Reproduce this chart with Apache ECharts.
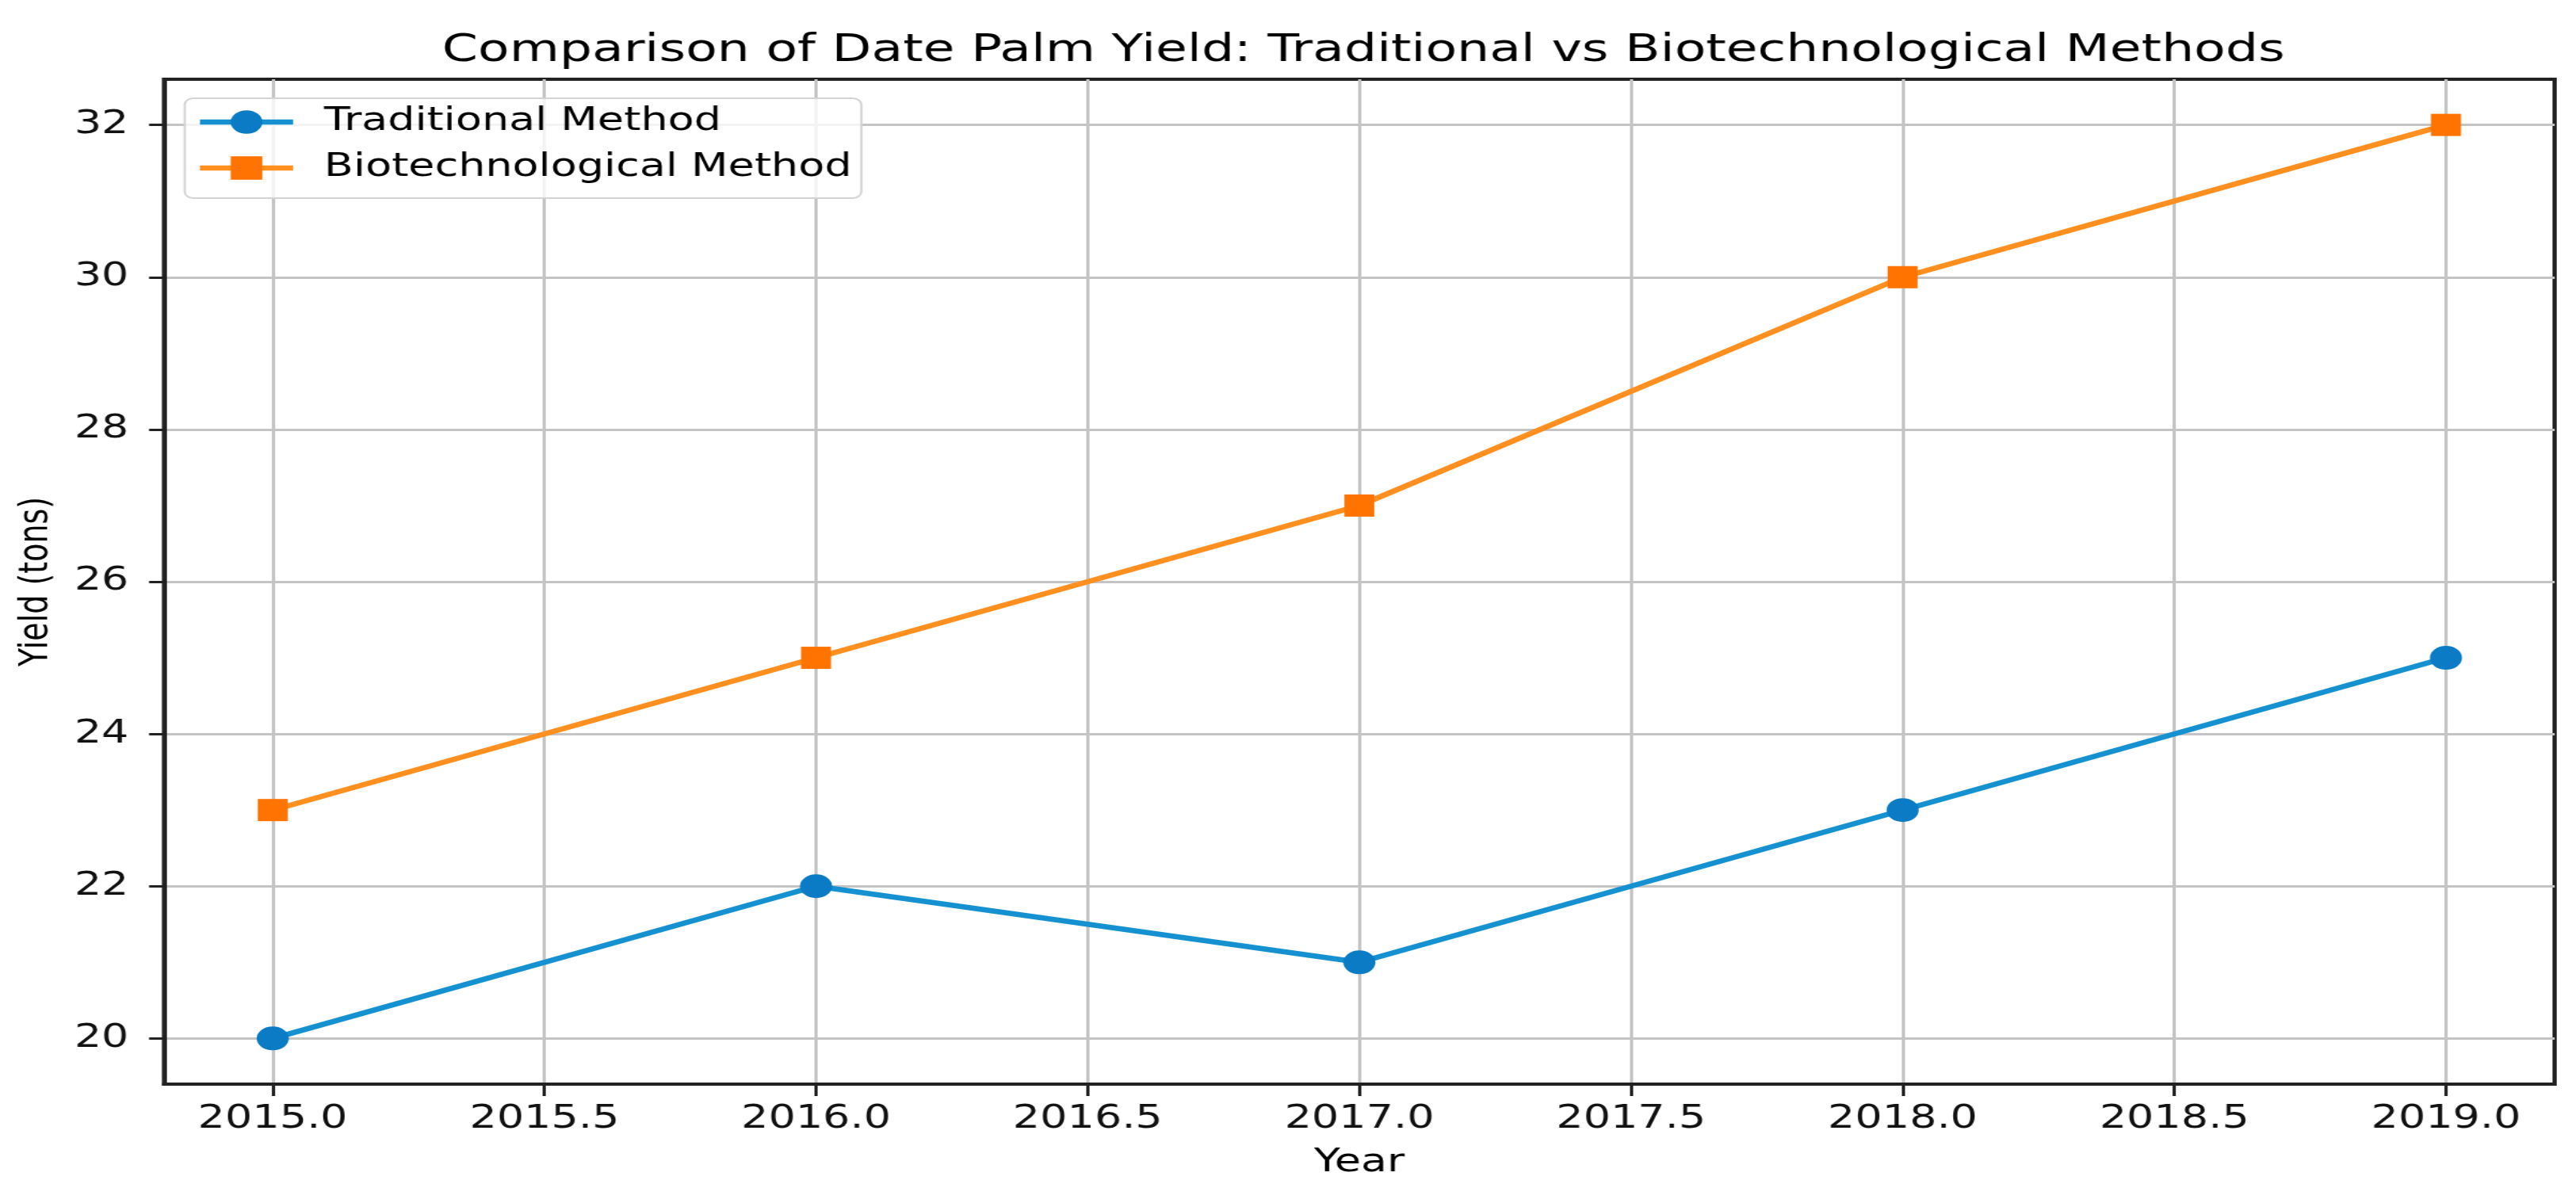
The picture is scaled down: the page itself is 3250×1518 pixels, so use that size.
<!DOCTYPE html>
<html>
<head>
<meta charset="utf-8">
<script src="https://cdn.jsdelivr.net/npm/echarts@6/dist/echarts.min.js"></script>
<style>
  html, body { margin: 0; padding: 0; background: #fff; overflow: hidden; }
  #chart { width: 2407px; height: 1518px; transform: scaleX(1.35024); transform-origin: 0 0; }
</style>
</head>
<body>
<div id="chart"></div>
<script>
// ---- data ----
const years = [2015, 2016, 2017, 2018, 2019];
const traditional = [20, 22, 21, 23, 25];
const biotech = [23, 25, 27, 30, 32];
const xTicks = [2015.0, 2015.5, 2016.0, 2016.5, 2017.0, 2017.5, 2018.0, 2018.5, 2019.0];
const yTicks = [20, 22, 24, 26, 28, 30, 32];
const titleText = 'Comparison of Date Palm Yield: Traditional vs Biotechnological Methods';
const seriesNames = ['Traditional Method', 'Biotechnological Method'];

const FONT = 'DejaVu Sans';
const chart = echarts.init(document.getElementById('chart'));

function pairs(xs, ys) { return xs.map((x, i) => [x, ys[i]]); }

const option = {
  animation: false,
  backgroundColor: '#ffffff',
  textStyle: { fontFamily: FONT },
  title: {
    text: titleText,
    left: 1269,
    textAlign: 'center',
    top: 36,
    textStyle: { fontFamily: FONT, fontSize: 48, fontWeight: 'normal', color: '#000' }
  },
  legend: {
    orient: 'vertical',
    left: 172.6,
    top: 124,
    padding: [10, 9, 18, 11],
    itemGap: 18,
    itemWidth: 87,
    itemHeight: 37,
    backgroundColor: 'rgba(255,255,255,0.8)',
    borderColor: '#d3d3d3',
    borderWidth: 2,
    borderRadius: 8,
    lineStyle: { width: 6.5 },
    textStyle: { fontFamily: FONT, fontSize: 40, color: '#000', padding: [0, 0, 0, 24] },
    data: seriesNames
  },
  grid: {
    left: 153.3,
    right: 20,
    top: 100,
    bottom: 150,
    show: true,
    borderColor: '#222',
    borderWidth: 4,
    backgroundColor: 'transparent'
  },
  xAxis: {
    type: 'value',
    min: 2014.8,
    max: 2019.2,
    name: 'Year',
    nameLocation: 'middle',
    nameGap: 80,
    nameTextStyle: { fontFamily: FONT, fontSize: 40, color: '#000' },
    axisLine: { show: true, lineStyle: { color: '#222', width: 4 } },
    axisTick: { show: true, length: 15, lineStyle: { color: '#222', width: 3 }, customValues: xTicks },
    axisLabel: {
      customValues: xTicks,
      margin: 25,
      fontFamily: FONT,
      fontSize: 40,
      color: '#111',
      formatter: v => Number(v).toFixed(1)
    },
    splitLine: { show: true, lineStyle: { color: '#c4c4c4', width: 3 } }
  },
  yAxis: {
    type: 'value',
    min: 19.4,
    max: 32.6,
    name: 'Yield (tons)',
    nameLocation: 'middle',
    nameGap: 100,
    nameRotate: 90,
    nameTextStyle: { fontFamily: FONT, fontSize: 38, color: '#000' },
    axisLine: { show: true, lineStyle: { color: '#222', width: 4 } },
    axisTick: { show: true, length: 14, lineStyle: { color: '#222', width: 3 }, customValues: yTicks },
    axisLabel: {
      customValues: yTicks,
      margin: 33,
      fontFamily: FONT,
      fontSize: 40,
      color: '#111'
    },
    splitLine: { show: true, lineStyle: { color: '#c4c4c4', width: 3 } }
  },
  series: [
    {
      name: seriesNames[0],
      type: 'line',
      data: pairs(years, traditional),
      symbol: 'circle',
      symbolSize: 30,
      lineStyle: { color: '#1591d2', width: 6.5 },
      itemStyle: { color: '#0a7bc4' },
      z: 3
    },
    {
      name: seriesNames[1],
      type: 'line',
      data: pairs(years, biotech),
      symbol: 'rect',
      symbolSize: 28,
      lineStyle: { color: '#ff8f1f', width: 6.5 },
      itemStyle: { color: '#ff7400' },
      z: 3
    }
  ]
};
chart.setOption(option);
</script>
</body>
</html>
